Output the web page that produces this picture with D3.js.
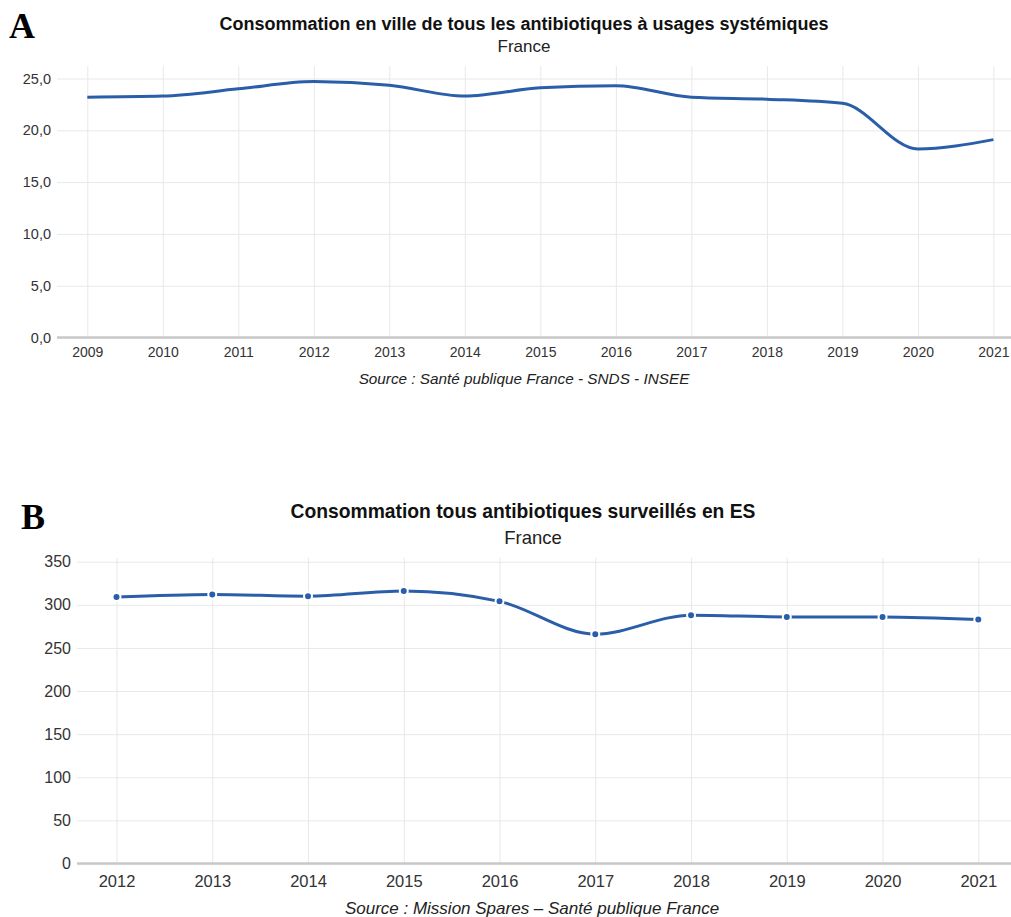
<!DOCTYPE html>
<html>
<head>
<meta charset="utf-8">
<script src="https://cdn.jsdelivr.net/npm/d3@7"></script>
<style>
  body { margin: 0; background: #fff; }
  svg { display: block; font-family: "Liberation Sans", Arial, sans-serif; }
  .grid line { stroke: #e8e8e8; stroke-width: 1; }
  .tick text { fill: #333; }
</style>
</head>
<body>
<svg id="chart" width="1011" height="917"></svg>
<script>
// data
const yearsA = [2009, 2010, 2011, 2012, 2013, 2014, 2015, 2016, 2017, 2018, 2019, 2020, 2021];
const valuesA = [23.2, 23.3, 24.0, 24.7, 24.35, 23.3, 24.1, 24.3, 23.2, 23.0, 22.6, 18.2, 19.1];
const ticksA = [0, 5, 10, 15, 20, 25];

const yearsB = [2012, 2013, 2014, 2015, 2016, 2017, 2018, 2019, 2020, 2021];
const valuesB = [309, 312, 310, 316, 304, 266, 288, 286, 286, 283];
const ticksB = [0, 50, 100, 150, 200, 250, 300, 350];

const lineColor = '#2b5ea8';
const frFormat = d3.formatLocale({decimal: ',', thousands: ' ', grouping: [3], currency: ['', ' €']});

const svg = d3.select('#chart');

function drawChart(cfg){
    const g = svg.append('g');
    const xScale = d3.scaleLinear().domain([cfg.years[0], cfg.years[cfg.years.length-1]]).range([cfg.x0, cfg.x1]);
    const yScale = d3.scaleLinear().domain([0, d3.max(cfg.ticks)]).range([cfg.yBottom, cfg.yTop]);

    // panel letter
    g.append('text')
        .attr('x', cfg.letterX).attr('y', cfg.letterY)
        .attr('font-family', '"Liberation Serif", "Times New Roman", serif')
        .attr('font-weight', 'bold').attr('font-size', 36)
        .text(cfg.letter);

    // titles
    g.append('text')
        .attr('x', cfg.cx).attr('y', cfg.titleY)
        .attr('text-anchor', 'middle').attr('font-weight', 'bold')
        .attr('font-size', cfg.titleSize).attr('fill', '#111')
        .text(cfg.title);
    g.append('text')
        .attr('x', cfg.subX).attr('y', cfg.subY)
        .attr('text-anchor', 'middle')
        .attr('font-size', cfg.subSize).attr('fill', '#222')
        .text('France');

    // vertical grid
    g.append('g')
        .attr('class', 'grid')
        .attr('transform', `translate(0,${cfg.yBottom})`)
        .call(d3.axisBottom(xScale).tickValues(cfg.years).tickSize(-(cfg.yBottom - cfg.gridTop)).tickFormat(''))
        .call(a => a.select('.domain').remove());

    // horizontal grid + y labels
    const yAxis = g.append('g')
        .attr('class', 'grid')
        .attr('transform', `translate(${cfg.plotLeft},0)`)
        .call(d3.axisLeft(yScale).tickValues(cfg.ticks).tickSize(-(cfg.plotRight - cfg.plotLeft)).tickPadding(6).tickFormat(cfg.fmt));
    yAxis.select('.domain').remove();
    yAxis.selectAll('text').attr('font-size', cfg.yTickSize).style('font-family', 'inherit');

    // base axis line
    g.append('line')
        .attr('x1', cfg.plotLeft).attr('x2', cfg.plotRight)
        .attr('y1', yScale(0)).attr('y2', yScale(0))
        .attr('stroke', '#c8c8c8').attr('stroke-width', 2.5);

    // x labels
    const xAxis = g.append('g')
        .attr('transform', `translate(0,${cfg.yBottom})`)
        .call(d3.axisBottom(xScale).tickValues(cfg.years).tickSize(0).tickPadding(cfg.xPad).tickFormat(d3.format('d')));
    xAxis.select('.domain').remove();
    xAxis.selectAll('text').attr('font-size', cfg.xTickSize).style('font-family', 'inherit');

    // line
    const line = d3.line()
        .x((d, i) => xScale(cfg.years[i]))
        .y(d => yScale(d))
        .curve(d3.curveMonotoneX);
    g.append('path')
        .datum(cfg.values)
        .attr('d', line)
        .attr('fill', 'none')
        .attr('stroke', lineColor)
        .attr('stroke-width', 3);

    if (cfg.markers) {
        g.selectAll('circle.pt')
            .data(cfg.values)
            .enter()
            .append('circle')
            .attr('class', 'pt')
            .attr('cx', (d, i) => xScale(cfg.years[i]))
            .attr('cy', d => yScale(d))
            .attr('r', 4)
            .attr('fill', lineColor)
            .attr('stroke', '#fff')
            .attr('stroke-width', 2);
    }

    // source
    g.append('text')
        .attr('x', cfg.srcX).attr('y', cfg.srcY)
        .attr('text-anchor', 'middle').attr('font-style', 'italic')
        .attr('font-size', cfg.srcSize).attr('fill', '#222')
        .text(cfg.source);
}

drawChart({
    letter: 'A', letterX: 9, letterY: 37.5,
    title: 'Consommation en ville de tous les antibiotiques à usages systémiques',
    titleSize: 18, titleY: 30, subX: 524, subY: 52, subSize: 17, cx: 524,
    years: yearsA, values: valuesA, ticks: ticksA,
    x0: 87.3, x1: 993.4, yBottom: 337.5, yTop: 78.5, gridTop: 66,
    plotLeft: 57, plotRight: 1011, yTickSize: 14.5, xTickSize: 14, xPad: 10,
    fmt: frFormat.format('.1f'), markers: false,
    source: 'Source : Santé publique France - SNDS - INSEE', srcX: 524, srcY: 384, srcSize: 15.3
});

drawChart({
    letter: 'B', letterX: 21, letterY: 529,
    title: 'Consommation tous antibiotiques surveillés en ES',
    titleSize: 19.3, titleY: 518, subX: 533, subY: 544, subSize: 18.5, cx: 523,
    years: yearsB, values: valuesB, ticks: ticksB,
    x0: 116.5, x1: 978.3, yBottom: 863.5, yTop: 561.7, gridTop: 558,
    plotLeft: 77, plotRight: 1011, yTickSize: 16, xTickSize: 16.5, xPad: 12,
    fmt: d3.format('d'), markers: true,
    source: 'Source : Mission Spares – Santé publique France', srcX: 532, srcY: 914, srcSize: 17
});
</script>
</body>
</html>
